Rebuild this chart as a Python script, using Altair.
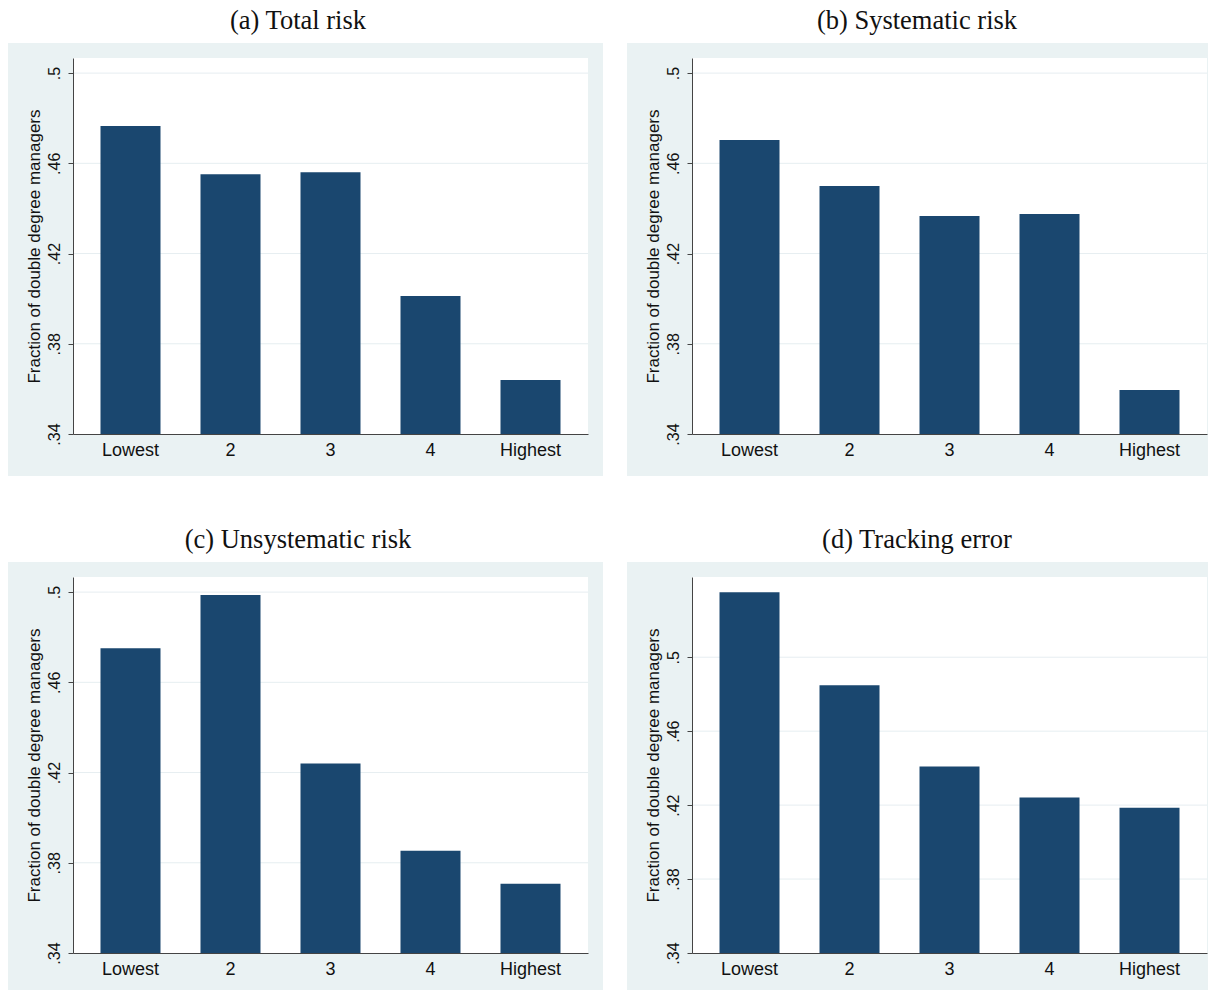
import altair as alt
import pandas as pd

categories = ["Lowest", "2", "3", "4", "Highest"]
total_risk = [0.4765, 0.4552, 0.4561, 0.4012, 0.3639]
systematic_risk = [0.4703, 0.4499, 0.4366, 0.4375, 0.3595]
unsystematic_risk = [0.4751, 0.4987, 0.4240, 0.3853, 0.3707]
tracking_error = [0.5352, 0.4848, 0.4409, 0.4241, 0.4186]
panel_titles = ["(a) Total risk", "(b) Systematic risk",
                "(c) Unsystematic risk", "(d) Tracking error"]
y_ticks = [0.34, 0.38, 0.42, 0.46, 0.50]
y_domains = [[0.34, 0.5067], [0.34, 0.5067], [0.34, 0.5067], [0.34, 0.5434]]
y_title = "Fraction of double degree managers"

W, H = 515, 376
BAR = "#1A476F"
BG = "#EAF2F3"
GRID = "#E6EEF1"
AXIS = "#444444"


def panel(values, title, domain, right_ext, bottom_ext):
    df = pd.DataFrame({"cat": categories, "val": values})
    one = pd.DataFrame({"k": [0]})
    grid_df = pd.DataFrame({"tick": [t for t in y_ticks if domain[0] < t <= domain[1]]})

    top_white = alt.Chart(one).mark_rect(color="white").encode(
        x=alt.value(-65), x2=alt.value(W + right_ext),
        y=alt.value(-50), y2=alt.value(-15))
    grey = alt.Chart(one).mark_rect(color=BG).encode(
        x=alt.value(-65), x2=alt.value(W + right_ext),
        y=alt.value(-15), y2=alt.value(H + bottom_ext))
    white = alt.Chart(one).mark_rect(color="white").encode(
        x=alt.value(0), x2=alt.value(W), y=alt.value(0), y2=alt.value(H))
    yscale = alt.Scale(domain=domain, nice=False, zero=False)
    grid = alt.Chart(grid_df).mark_rule(color=GRID, strokeWidth=1).encode(
        y=alt.Y("tick:Q", scale=yscale, axis=None),
        x=alt.value(0), x2=alt.value(W))
    bars = alt.Chart(df).mark_bar(color=BAR).encode(
        x=alt.X("cat:N", sort=categories,
                scale=alt.Scale(paddingInner=0.4, paddingOuter=0.275),
                axis=alt.Axis(title=None, labelAngle=0, ticks=False,
                              domainColor=AXIS, domainWidth=1,
                              labelFont="Liberation Sans", labelFontSize=18,
                              labelColor="#111111", labelPadding=7, zindex=1)),
        y=alt.Y("val:Q", scale=yscale,
                axis=alt.Axis(title=y_title, values=y_ticks,
                              labelExpr="replace(format(datum.value, '.2~f'), '0.', '.')",
                              labelAngle=270, grid=False,
                              tickSize=5, tickColor=AXIS, tickWidth=1,
                              domainColor=AXIS, domainWidth=1,
                              labelFont="Liberation Sans", labelFontSize=16,
                              labelColor="#111111", labelPadding=6,
                              titleFont="Liberation Sans", titleFontSize=17,
                              titleFontWeight="normal", titleColor="#111111",
                              titlePadding=3, zindex=1)),
        y2=alt.datum(domain[0]))
    ttl = alt.Chart(one).mark_text(
        font="Liberation Serif", fontSize=26.5, align="center",
        baseline="alphabetic", color="#111111").encode(
        x=alt.value(225), y=alt.value(-29), text=alt.value(title))
    return (alt.layer(top_white, grey, white, grid, bars, ttl)
            .resolve_axis(y="independent")
            .properties(width=W, height=H))


pa = panel(total_risk, panel_titles[0], y_domains[0], 15, 42)
pb = panel(systematic_risk, panel_titles[1], y_domains[1], 1, 42)
pc = panel(unsystematic_risk, panel_titles[2], y_domains[2], 15, 37)
pd_ = panel(tracking_error, panel_titles[3], y_domains[3], 1, 37)

chart = alt.vconcat(
    alt.hconcat(pa, pb, spacing=24),
    alt.hconcat(pc, pd_, spacing=24),
    spacing=51,
).properties(padding=0, background="white").configure_view(stroke=None)

chart.save("out.html", embed_options={"renderer": "svg", "actions": False})
